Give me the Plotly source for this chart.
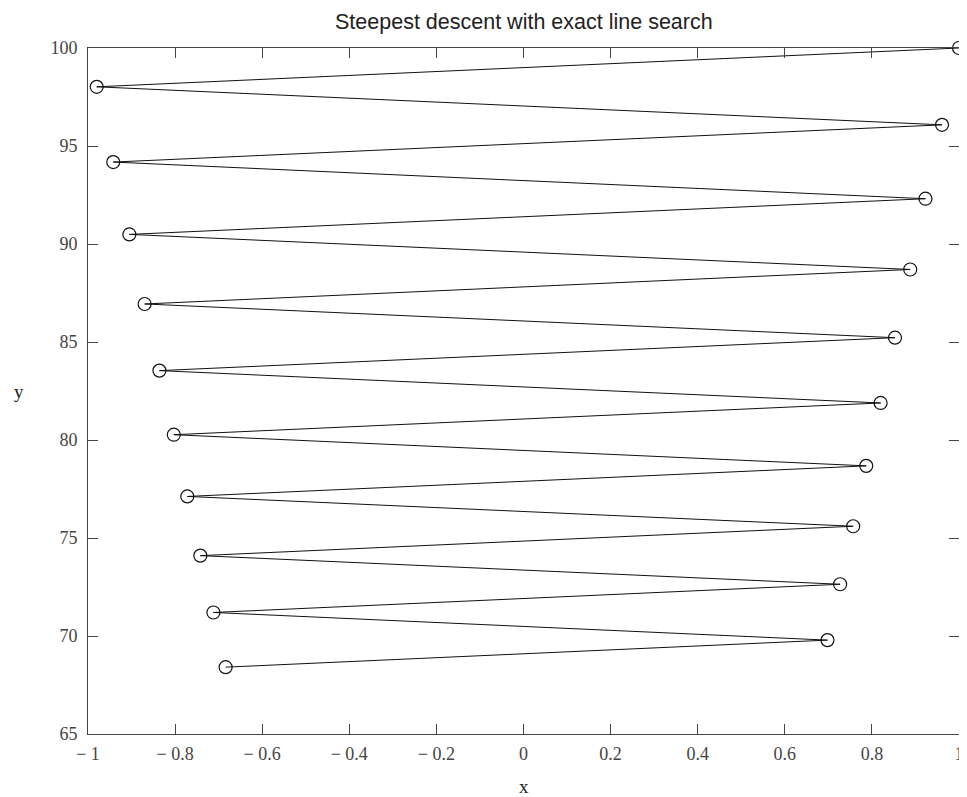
import plotly.graph_objects as go

x_vals = [1.0, -0.980, 0.961, -0.942, 0.923, -0.905, 0.888, -0.870, 0.853, -0.836,
          0.820, -0.803, 0.787, -0.772, 0.757, -0.742, 0.727, -0.712, 0.698, -0.684]
y_vals = [100.0, 98.02, 96.08, 94.18, 92.31, 90.49, 88.70, 86.94, 85.22, 83.54,
          81.89, 80.27, 78.68, 77.12, 75.60, 74.10, 72.64, 71.20, 69.79, 68.41]

x_ticks = [-1, -0.8, -0.6, -0.4, -0.2, 0, 0.2, 0.4, 0.6, 0.8, 1]
x_tick_text = ["\u2212 1", "\u2212 0.8", "\u2212 0.6", "\u2212 0.4", "\u2212 0.2", "0", "0.2", "0.4", "0.6", "0.8", "1"]
y_ticks = [65, 70, 75, 80, 85, 90, 95, 100]
y_tick_text = ["65", "70", "75", "80", "85", "90", "95", "100"]

title_text = "Steepest descent with exact line search"

fig = go.Figure()
fig.add_trace(go.Scatter(
    x=x_vals, y=y_vals, mode="lines+markers",
    line=dict(color="#111111", width=1),
    marker=dict(symbol="circle-open", size=13, color="#111111", line=dict(width=1.2)),
    cliponaxis=False, showlegend=False,
))

serif = "Liberation Serif, DejaVu Serif, serif"
axis_common = dict(
    showgrid=False, zeroline=False, showline=True, linecolor="#444444", linewidth=1,
    ticks="inside", ticklen=10, tickcolor="#444444", tickwidth=1, mirror="ticks",
    tickfont=dict(family=serif, size=18, color="#444444"), automargin=False,
)

fig.update_layout(
    width=959, height=789,
    paper_bgcolor="white", plot_bgcolor="white",
    margin=dict(l=80, r=8, t=40, b=63),
    xaxis=dict(range=[-1, 1], tickvals=x_ticks, ticktext=x_tick_text, ticklabelstandoff=3, **axis_common),
    yaxis=dict(range=[65, 100], tickvals=y_ticks, ticktext=y_tick_text, ticklabelstandoff=6, **axis_common),
    annotations=[
        dict(text=title_text, x=0.5, y=1, xref="paper", yref="paper", xanchor="center", yanchor="bottom",
             yshift=12, showarrow=False,
             font=dict(family="Liberation Sans, Arial, sans-serif", size=21.5, color="#222222")),
        dict(text="x", x=0.5, y=0, xref="paper", yref="paper", xanchor="center", yanchor="top",
             yshift=-40, showarrow=False, font=dict(family=serif, size=19, color="#222222")),
        dict(text="y", x=0, y=0.5, xref="paper", yref="paper", xanchor="right", yanchor="middle",
             xshift=-62, showarrow=False, font=dict(family=serif, size=19, color="#222222")),
    ],
)

fig.write_html("out.html")
